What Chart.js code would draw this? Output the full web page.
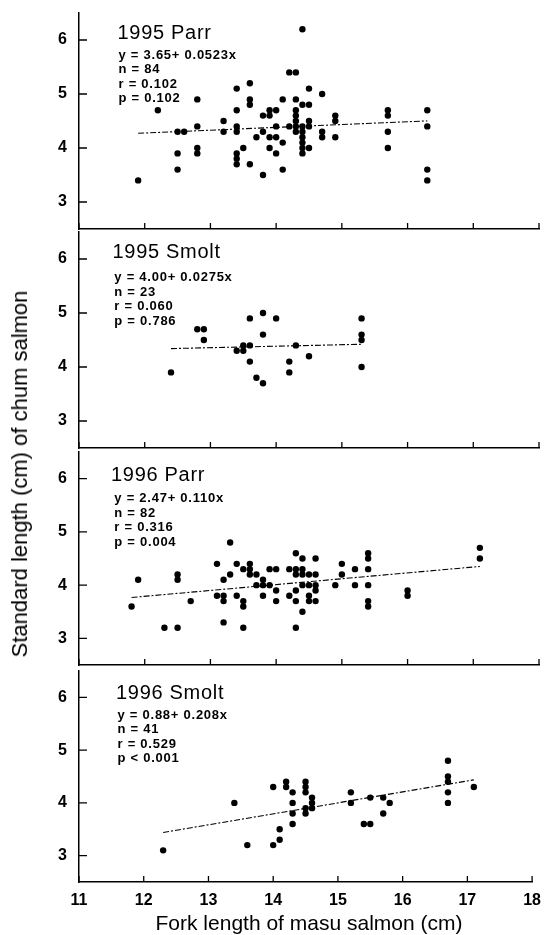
<!DOCTYPE html>
<html><head><meta charset="utf-8">
<script src="https://cdn.jsdelivr.net/npm/chart.js@4/dist/chart.umd.min.js"></script>
<style>
html,body{margin:0;padding:0;background:#fff;}
#wrap{position:relative;width:550px;height:935px;overflow:hidden;font-family:"Liberation Sans",Arial,Helvetica,sans-serif;color:#000;}
canvas{position:absolute;left:0;}
.ttl{position:absolute;font-size:20px;line-height:20px;white-space:nowrap;letter-spacing:0.7px;}
.st{position:absolute;font-size:13px;line-height:14.5px;font-weight:bold;white-space:nowrap;letter-spacing:0.75px;}
.yt{position:absolute;font-size:22px;line-height:22px;white-space:nowrap;transform:translate(-50%,-50%) rotate(-90deg);}
.xt{position:absolute;font-size:21px;line-height:21px;white-space:nowrap;transform:translate(-50%,-50%);}
</style></head><body><div id="wrap"></div>
<script>
// ---------- data ----------
const panelNames = ['1995 Parr', '1995 Smolt', '1996 Parr', '1996 Smolt'];
const intercepts = [3.65, 4.00, 2.47, 0.88];
const slopes = [0.0523, 0.0275, 0.110, 0.208];
const statsParr95 = ['y = 3.65+ 0.0523x', 'n = 84', 'r = 0.102', 'p = 0.102'];
const statsSmolt95 = ['y = 4.00+ 0.0275x', 'n = 23', 'r = 0.060', 'p = 0.786'];
const statsParr96 = ['y = 2.47+ 0.110x', 'n = 82', 'r = 0.316', 'p = 0.004'];
const statsSmolt96 = ['y = 0.88+ 0.208x', 'n = 41', 'r = 0.529', 'p < 0.001'];

const parr95X = [11.9, 12.2, 12.5, 12.5, 12.5, 12.6, 12.8, 12.8, 12.8, 12.8, 13.2, 13.2,
  13.4, 13.4, 13.4, 13.4, 13.4, 13.4, 13.4, 13.5, 13.6, 13.6, 13.6, 13.6, 13.7,
  13.8, 13.8, 13.8, 13.9, 13.9, 13.9, 13.9, 14.0, 14.0, 14.0, 14.0, 14.1, 14.1, 14.1,
  14.2, 14.2, 14.3, 14.3, 14.3, 14.3, 14.3, 14.3, 14.3,
  14.4, 14.4, 14.4, 14.4, 14.4, 14.4, 14.4, 14.4, 14.5, 14.5, 14.5, 14.5, 14.5,
  14.7, 14.7, 14.7, 14.9, 14.9, 14.9, 15.7, 15.7, 15.7, 15.7, 16.3, 16.3, 16.3, 16.3];
const parr95Y = [3.4, 4.7, 4.3, 3.9, 3.6, 4.3, 4.9, 4.4, 4.0, 3.9, 4.5, 4.3,
  5.1, 4.7, 4.4, 4.3, 3.9, 3.8, 3.7, 4.0, 5.2, 4.9, 4.8, 3.7, 4.2,
  4.6, 4.3, 3.5, 4.7, 4.6, 4.2, 4.0, 4.7, 4.4, 4.2, 3.9, 4.9, 4.1, 3.6,
  5.4, 4.4, 5.4, 4.9, 4.7, 4.6, 4.5, 4.4, 4.3,
  6.2, 4.8, 4.4, 4.3, 4.2, 4.1, 4.0, 3.9, 5.1, 4.8, 4.5, 4.4, 4.0,
  5.0, 4.3, 4.2, 4.6, 4.5, 4.2, 4.7, 4.6, 4.3, 4.0, 4.7, 4.4, 3.6, 3.4];

const smolt95X = [12.4, 12.8, 12.9, 12.9, 13.4, 13.5, 13.5, 13.6, 13.6, 13.6, 13.7,
  13.8, 13.8, 13.8, 14.0, 14.2, 14.2, 14.3, 14.5, 15.3, 15.3, 15.3, 15.3];
const smolt95Y = [3.9, 4.7, 4.7, 4.5, 4.3, 4.4, 4.3, 4.9, 4.4, 4.1, 3.8,
  5.0, 4.6, 3.7, 4.9, 4.1, 3.9, 4.4, 4.2, 4.9, 4.6, 4.5, 4.0];

const parr96X = [11.8, 11.9, 12.3, 12.5, 12.5, 12.5, 12.7, 13.1, 13.1, 13.2, 13.2, 13.2, 13.2,
  13.3, 13.3, 13.4, 13.4, 13.5, 13.5, 13.5, 13.5, 13.6, 13.6, 13.6, 13.7, 13.7,
  13.8, 13.8, 13.8, 13.9, 13.9, 14.0, 14.0, 14.0, 14.2, 14.2,
  14.3, 14.3, 14.3, 14.3, 14.3, 14.3, 14.4, 14.4, 14.4, 14.4, 14.4,
  14.5, 14.5, 14.5, 14.5, 14.6, 14.6, 14.6, 14.6, 14.6, 14.9, 15.0, 15.0, 15.2, 15.2,
  15.4, 15.4, 15.4, 15.4, 15.4, 15.4, 16.0, 16.0, 17.1, 17.1];
const parr96Y = [3.6, 4.1, 3.2, 4.2, 4.1, 3.2, 3.7, 4.4, 3.8, 4.1, 3.8, 3.7, 3.3,
  4.8, 4.2, 4.4, 3.8, 4.3, 3.7, 3.6, 3.2, 4.4, 4.3, 4.2, 4.2, 4.0,
  4.1, 4.0, 3.8, 4.3, 4.0, 4.3, 3.9, 3.7, 4.3, 3.8,
  4.6, 4.3, 4.2, 3.9, 3.7, 3.2, 4.5, 4.3, 4.2, 4.0, 3.5,
  4.2, 4.0, 3.8, 3.7, 4.5, 4.2, 4.0, 3.9, 3.7, 4.0, 4.4, 4.2, 4.3, 4.0,
  4.6, 4.5, 4.3, 4.0, 3.7, 3.6, 3.9, 3.8, 4.7, 4.5];

const smolt96X = [12.3, 13.4, 13.6, 14.0, 14.0, 14.1, 14.1, 14.2, 14.2,
  14.3, 14.3, 14.3, 14.3, 14.5, 14.5, 14.5, 14.5, 14.5, 14.6, 14.6, 14.6,
  15.2, 15.2, 15.4, 15.5, 15.5, 15.7, 15.7, 15.8,
  16.7, 16.7, 16.7, 16.7, 16.7, 17.1];
const smolt96Y = [3.1, 4.0, 3.2, 4.3, 3.2, 3.5, 3.3, 4.4, 4.3,
  4.2, 4.0, 3.8, 3.6, 4.4, 4.3, 4.2, 3.9, 3.8, 4.1, 4.0, 3.9,
  4.2, 4.0, 3.6, 4.1, 3.6, 4.1, 3.8, 4.0,
  4.8, 4.5, 4.4, 4.2, 4.0, 4.3];

const xTickLabels = ['11', '12', '13', '14', '15', '16', '17', '18'];
const yTickLabels = ['3', '4', '5', '6'];
const xTitle = 'Fork length of masu salmon (cm)';
const yTitle = 'Standard length (cm) of chum salmon';

// ---------- layout ----------
const FONT = '"Liberation Sans", Arial, Helvetica, sans-serif';
const seriesX = [parr95X, smolt95X, parr96X, smolt96X];
const seriesY = [parr95Y, smolt95Y, parr96Y, smolt96Y];
const statSets = [statsParr95, statsSmolt95, statsParr96, statsSmolt96];
const areas = [[13, 229], [232, 448], [452, 665], [671, 882]];
const titlePos = [[117.5, 31.7], [112.5, 250.8], [111, 473.3], [116, 691.5]];
const statPos = [[118.5, 54.7], [114.3, 277.5], [114.3, 498.3], [117.5, 715]];
const PAD = 24;

const wrap = document.getElementById('wrap');

const inwardTicks = {
  id: 'inwardTicks',
  afterDraw(chart) {
    const { ctx, chartArea: ca } = chart;
    const x = chart.scales.x, y = chart.scales.y;
    ctx.save();
    ctx.strokeStyle = '#000';
    ctx.lineWidth = 1.3;
    ctx.beginPath();
    y.ticks.forEach(t => {
      const py = y.getPixelForValue(t.value);
      const len = Number.isInteger(t.value) ? 8 : 4.5;
      ctx.moveTo(ca.left, py); ctx.lineTo(ca.left + len, py);
    });
    x.ticks.forEach(t => {
      const px = x.getPixelForValue(t.value);
      ctx.moveTo(px, ca.bottom); ctx.lineTo(px, ca.bottom - 6);
    });
    ctx.stroke();
    ctx.restore();
  }
};

for (let i = 0; i < 4; i++) {
  const last = i === 3;
  const top = areas[i][0] - PAD;
  const h = last ? 935 - top : (areas[i][1] - areas[i][0] + 2 * PAD);
  const cv = document.createElement('canvas');
  cv.width = 550; cv.height = h;
  cv.style.width = '550px'; cv.style.height = h + 'px';
  cv.style.top = top + 'px';
  wrap.appendChild(cv);

  const xs = seriesX[i], ys = seriesY[i];
  const pts = xs.map((v, k) => ({ x: v, y: ys[k] }));
  const x0 = Math.min(...xs), x1 = Math.max(...xs);
  const fit = [x0, x1].map(v => ({ x: v, y: intercepts[i] + slopes[i] * v }));

  new Chart(cv, {
    type: 'scatter',
    data: {
      datasets: [
        { data: fit, showLine: true, pointRadius: 0, borderColor: '#000', borderWidth: 1.1,
          borderDash: [6, 2, 2, 2], fill: false },
        { data: pts, pointRadius: 3.2, pointBackgroundColor: '#000', pointBorderWidth: 0,
          backgroundColor: '#000', borderColor: '#000' }
      ]
    },
    options: {
      responsive: false, animation: false, devicePixelRatio: 1,
      layout: { padding: { top: PAD, bottom: last ? 0 : PAD, left: 0, right: 11 } },
      plugins: { legend: { display: false }, tooltip: { enabled: false } },
      scales: {
        x: {
          type: 'linear', min: 11, max: 18,
          ticks: { display: last, stepSize: 1, autoSkip: false, maxRotation: 0, padding: 9, color: '#000',
            font: { family: FONT, size: 16, weight: 'bold' },
            callback: v => xTickLabels[Math.round(v - 11)] ?? null },
          grid: { display: false, drawTicks: false },
          border: { display: true, color: '#000', width: 1.5 },
          afterFit: s => { s.height = last ? 53 : 0; }
        },
        y: {
          type: 'linear', min: 2.5, max: 6.5,
          ticks: { stepSize: 0.5, autoSkip: false, padding: 12, color: '#000',
            font: { family: FONT, size: 16, weight: 'bold' },
            callback: v => Number.isInteger(v) ? (yTickLabels[v - 3] ?? null) : null },
          grid: { display: false, drawTicks: false },
          border: { display: true, color: '#000', width: 1.5 },
          afterFit: s => { s.width = 79; }
        }
      }
    },
    plugins: [inwardTicks]
  });

  const t = document.createElement('div');
  t.className = 'ttl';
  t.textContent = panelNames[i];
  t.style.left = titlePos[i][0] + 'px';
  t.style.top = (titlePos[i][1] - 9.8) + 'px';
  wrap.appendChild(t);

  const s = document.createElement('div');
  s.className = 'st';
  s.innerHTML = statSets[i].map(l => l.replace(/&/g, '&amp;').replace(/</g, '&lt;')).join('<br>');
  s.style.left = statPos[i][0] + 'px';
  s.style.top = (statPos[i][1] - 7.1) + 'px';
  wrap.appendChild(s);
}

const yt = document.createElement('div');
yt.className = 'yt'; yt.textContent = yTitle;
yt.style.left = '19.5px'; yt.style.top = '474px';
wrap.appendChild(yt);

const xt = document.createElement('div');
xt.className = 'xt'; xt.textContent = xTitle;
xt.style.left = '309px'; xt.style.top = '922px';
wrap.appendChild(xt);
</script></body></html>
